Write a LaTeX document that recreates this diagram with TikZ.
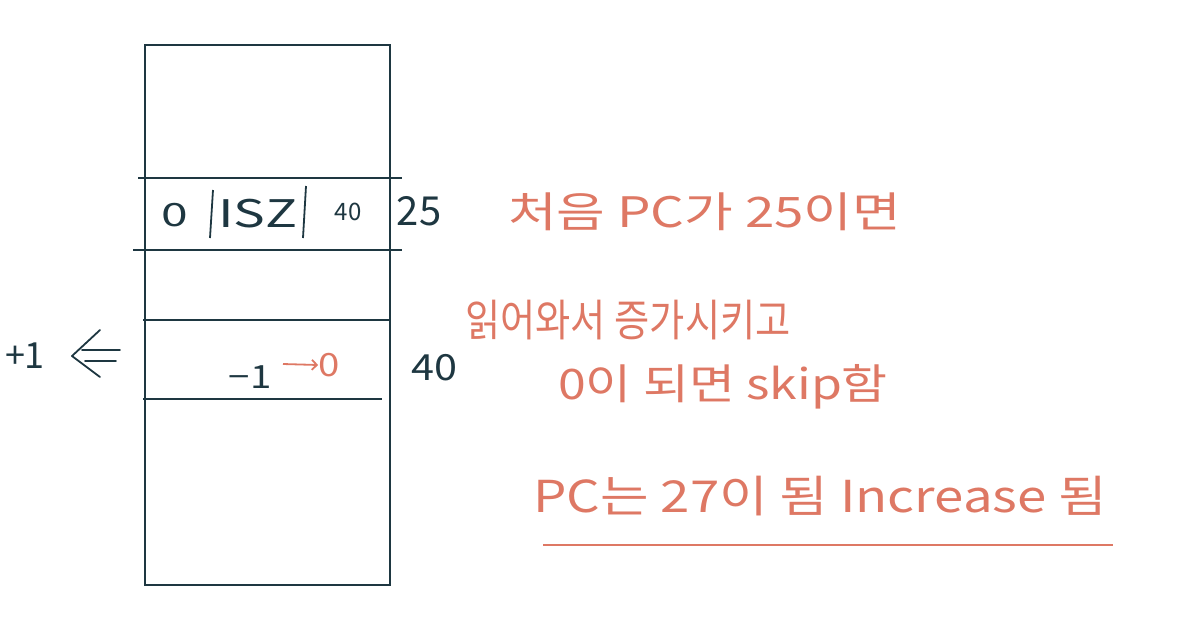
\documentclass[tikz,border=0pt]{standalone}
\usepackage{fontspec}
\setmainfont{Noto Sans CJK KR}
\usetikzlibrary{arrows.meta}
\definecolor{ink}{RGB}{30,55,65}
\definecolor{org}{RGB}{222,120,100}
\tikzset{
  line/.style={draw=ink, line width=2pt},
  dk/.style={text=ink, inner sep=0pt, font=\fontsize{26}{30}\selectfont},
  note/.style={text=org, inner sep=0pt, anchor=west},
}
\begin{document}
\begin{tikzpicture}[x=1pt,y=-1pt]
\useasboundingbox (0,0) rectangle (1183,633);
% memory box
\draw[line] (145,45) rectangle (390,585);
\coordinate (a1) at (138,178); \coordinate (a2) at (402,178);
\coordinate (b1) at (133,250); \coordinate (b2) at (402,250);
\coordinate (c1) at (143,320); \coordinate (c2) at (390,320);
\coordinate (d1) at (143,399); \coordinate (d2) at (382,399);
\draw[line] (a1) -- (a2);
\draw[line] (b1) -- (b2);
\draw[line] (c1) -- (c2);
\draw[line] (d1) -- (d2);
% instruction row
\node[dk, font=\fontsize{32}{36}\selectfont] (z) at (175,215) {\scalebox{1.5}[1]{0}};
\coordinate (s1t) at (213,190); \coordinate (s1b) at (210,238);
\draw[line, line width=1.8pt] (s1t) -- (s1b);
\node[dk, font=\fontsize{38}{42}\selectfont] (isz) at (258,214) {\scalebox{1.4}[1]{ISZ}};
\coordinate (s2t) at (306,186); \coordinate (s2b) at (303,238);
\draw[line, line width=1.8pt] (s2t) -- (s2b);
\node[dk, font=\fontsize{24}{28}\selectfont] (f) at (348,212) {40};
\node[dk, font=\fontsize{40}{44}\selectfont] (addr1) at (419,211) {25};
% data row
\node[dk, font=\fontsize{32}{36}\selectfont] (m1) at (250,377) {\scalebox{1.2}[1]{−1}};
\node[text=org, inner sep=0pt, font=\fontsize{32}{36}\selectfont] (zz) at (329,365) {\scalebox{1.2}[1]{0}};
\draw[org, line width=1.8pt, -{Straight Barb[length=5pt]}] (283,364) -- (zz.west);
\node[dk, font=\fontsize{36}{40}\selectfont] (addr2) at (434,368) {\scalebox{1.15}[1]{40}};
% +1 arrow
\node[dk, font=\fontsize{36}{40}\selectfont] (p1) at (25,356) {+1};
\coordinate (arrU1) at (120,350); \coordinate (arrU2) at (82,350);
\coordinate (arrL1) at (116,361); \coordinate (arrL2) at (85,361);
\coordinate (chT) at (100,330); \coordinate (chM) at (72,356); \coordinate (chB) at (100,377);
\draw[ink, line width=1.8pt, line cap=round, line join=round] (arrU1) -- (arrU2);
\draw[ink, line width=1.8pt, line cap=round, line join=round] (arrL1) -- (arrL2);
\draw[ink, line width=1.8pt, line cap=round, line join=round] (chT) -- (chM) -- (chB);
% notes
\node[note, font=\fontsize{42}{46}\selectfont] (n1) at (508,212) {\scalebox{1.26}[1]{처음 PC가 25이면}};
\node[note, font=\fontsize{44}{48}\selectfont] (n2) at (465,320) {\scalebox{0.87}[1]{읽어와서 증가시키고}};
\node[note, font=\fontsize{42}{46}\selectfont] (n3) at (558,387) {\scalebox{1.19}[1]{0이 되면 skip함}};
\node[note, font=\fontsize{44}{48}\selectfont] (n4) at (533,496) {\scalebox{1.2}[1]{PC는 27이 됨 Increase 됨}};
\coordinate (u1) at (543,545); \coordinate (u2) at (1113,545);
\draw[org, line width=2pt] (u1) -- (u2);
\end{tikzpicture}
\end{document}
